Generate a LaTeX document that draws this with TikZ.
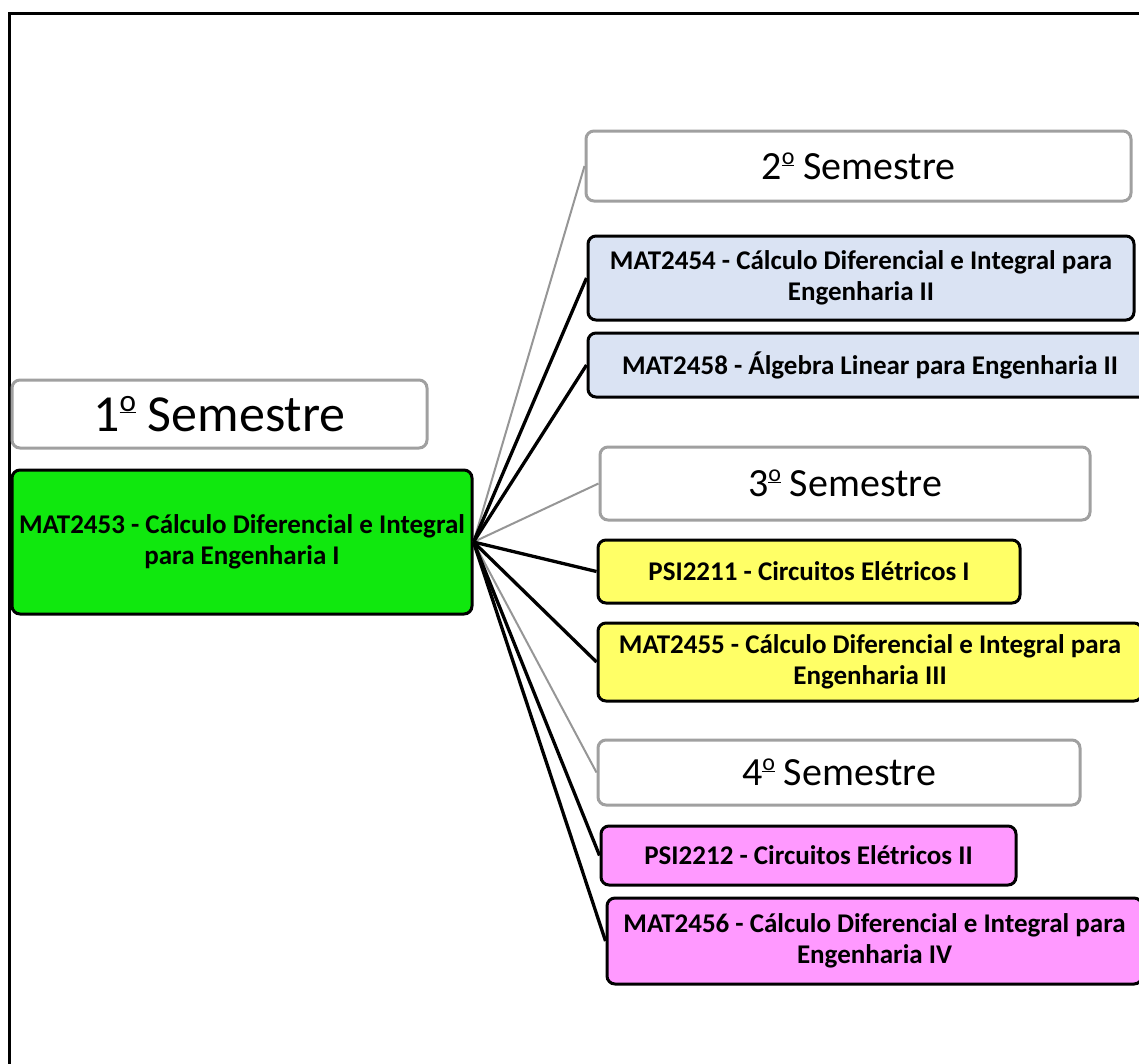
\documentclass[tikz,border=0pt]{standalone}
\usepackage{fontspec}
\setmainfont{Carlito}
\definecolor{semgray}{RGB}{160,160,160}
\definecolor{linegray}{RGB}{150,150,150}
\definecolor{bgreen}{RGB}{16,232,14}
\definecolor{lblue}{RGB}{218,227,243}
\definecolor{lyellow}{RGB}{255,255,102}
\definecolor{lpink}{RGB}{255,153,255}
\newcommand\ordo{\raisebox{0.38em}{\scalebox{0.6}{\underline{o}}}}
\begin{document}
\begin{tikzpicture}[x=1pt,y=-1pt,
  sem/.style={draw=semgray, fill=white, rounded corners=8pt, line width=3pt, inner sep=0pt, align=center, font=\fontsize{40}{46}\selectfont},
  course/.style={draw=black, rounded corners=8pt, line width=3pt, inner sep=0pt, align=center, font=\bfseries\fontsize{27}{31}\selectfont},
  conn/.style={draw=black, line width=3.3pt},
  semconn/.style={draw=linegray, line width=2pt}]
\useasboundingbox (0,0) rectangle (1139,1063);
\clip (0,0) rectangle (1139,1063);
\draw[line width=3pt] (9.5,13.5) rectangle (1300,1200);

\node[sem, minimum width=415pt, minimum height=68pt, font=\fontsize{52}{58}\selectfont] (s1) at (219.5,414) {1\ordo{} Semestre};
\node[course, fill=bgreen, minimum width=460pt, minimum height=144pt] (c0) at (242,542) {MAT2453 - Cálculo Diferencial e Integral\\para Engenharia I};

\node[sem, minimum width=545pt, minimum height=70pt] (s2) at (858.5,166) {2\ordo{} Semestre};
\node[course, fill=lblue, minimum width=546pt, minimum height=84pt] (c1) at (861,278) {MAT2454 - Cálculo Diferencial e Integral para\\Engenharia II};
\node[course, fill=lblue, minimum width=564pt, minimum height=64pt] (c2) at (870,365) {MAT2458 - Álgebra Linear para Engenharia II};

\node[sem, minimum width=490pt, minimum height=73pt] (s3) at (845,483.5) {3\ordo{} Semestre};
\node[course, fill=lyellow, minimum width=422pt, minimum height=63pt] (c3) at (809,571.5) {PSI2211 - Circuitos Elétricos I};
\node[course, fill=lyellow, minimum width=544pt, minimum height=78pt] (c4) at (870,662) {MAT2455 - Cálculo Diferencial e Integral para\\Engenharia III};

\node[sem, minimum width=482pt, minimum height=65pt] (s4) at (839,772.5) {4\ordo{} Semestre};
\node[course, fill=lpink, minimum width=415pt, minimum height=59pt] (c5) at (808.5,855.5) {PSI2212 - Circuitos Elétricos II};
\node[course, fill=lpink, minimum width=535pt, minimum height=86pt] (c6) at (874.5,941) {MAT2456 - Cálculo Diferencial e Integral para\\Engenharia IV};

\draw[semconn] (c0.east) -- (s2.west);
\draw[semconn] (c0.east) -- (s3.west);
\draw[semconn] (c0.east) -- (s4.west);
\draw[conn] (c0.east) -- (c1.west);
\draw[conn] (c0.east) -- (c2.west);
\draw[conn] (c0.east) -- (c3.west);
\draw[conn] (c0.east) -- (c4.west);
\draw[conn] (c0.east) -- (c5.west);
\draw[conn] (c0.east) -- (c6.west);
\end{tikzpicture}
\end{document}
